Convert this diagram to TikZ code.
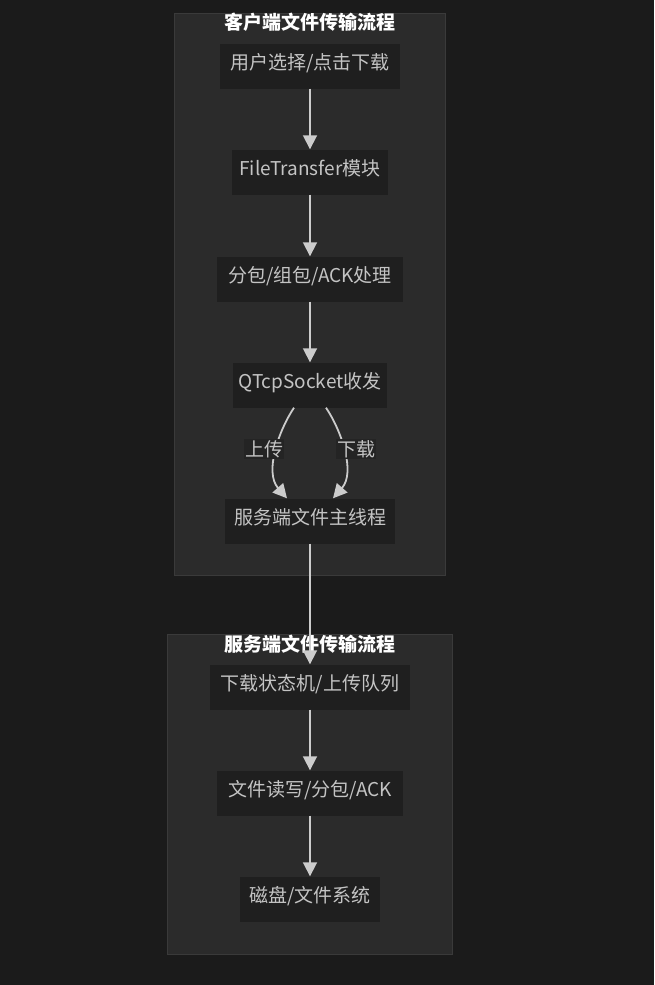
\documentclass[tikz,border=0pt]{standalone}
\usepackage{fontspec}
\setmainfont{Noto Sans CJK SC}
\usetikzlibrary{arrows.meta}
\definecolor{pagebg}{RGB}{27,27,27}
\definecolor{clusterbg}{RGB}{43,43,43}
\definecolor{clusterline}{RGB}{58,58,58}
\definecolor{procbg}{RGB}{31,31,31}
\definecolor{proctext}{RGB}{196,196,196}
\definecolor{flowline}{RGB}{204,204,204}
\tikzset{
    proc/.style={fill=procbg, text=proctext, minimum height=45pt, inner sep=0pt, text height=14pt, text depth=7pt, font=\fontsize{19}{22}\selectfont},
    cluster/.style={fill=clusterbg, draw=clusterline, line width=0.8pt},
    clustertitle/.style={text=white, font=\fontsize{19}{22}\selectfont\bfseries},
    flow/.style={draw=flowline, line width=1.8pt, -{Triangle[length=14pt,width=14pt]}},
    flowlabel/.style={fill=procbg!60!clusterbg, text=proctext, inner sep=1pt, font=\fontsize{19}{22}\selectfont}
}
\begin{document}
\begin{tikzpicture}[x=1pt,y=-1pt]
        \fill[pagebg] (0,0) rectangle (654,985);
        \useasboundingbox (0,0) rectangle (654,985);
        \begin{scope}[every node/.style={clustertitle}]
            \path[cluster] (174,13) rectangle (445,575);
            \node (client) at (310,22) {客户端文件传输流程};
            \path[cluster] (167,634) rectangle (452,954);
            \node (server) at (310,644) {服务端文件传输流程};
        \end{scope}
        \begin{scope}[every node/.style={proc}]
            \node[minimum width=180pt] (select) at (310,66) {用户选择/点击下载};
            \node[minimum width=156pt] (module) at (310,172) {FileTransfer模块};
            \node[minimum width=186pt] (packet) at (310,279) {分包/组包/ACK处理};
            \node[minimum width=154pt] (socket) at (310,385) {QTcpSocket收发};
            \node[minimum width=170pt] (mainthread) at (310,521) {服务端文件主线程};
            \node[minimum width=200pt] (statemachine) at (310,687) {下载状态机/上传队列};
            \node[minimum width=186pt] (rw) at (310,793) {文件读写/分包/ACK};
            \node[minimum width=140pt] (disk) at (310,899) {磁盘/文件系统};
        \end{scope}
        \begin{scope}
            \path [flow] (select) -- (module);
            \path [flow] (module) -- (packet);
            \path [flow] (packet) -- (socket);
            \path [flow] (socket.south -| 294,0) .. controls (279,430) and (264,472) .. (mainthread.north -| 287,0);
            \path [flow] (socket.south -| 326,0) .. controls (341,430) and (356,472) .. (mainthread.north -| 333,0);
            \path [flow] (mainthread) -- (statemachine);
            \path [flow] (statemachine) -- (rw);
            \path [flow] (rw) -- (disk);
        \end{scope}
        \begin{scope}[every node/.style={flowlabel}]
            \node (upload) at (264,449) {上传};
            \node (download) at (356,449) {下载};
        \end{scope}
    \end{tikzpicture}
\end{document}
